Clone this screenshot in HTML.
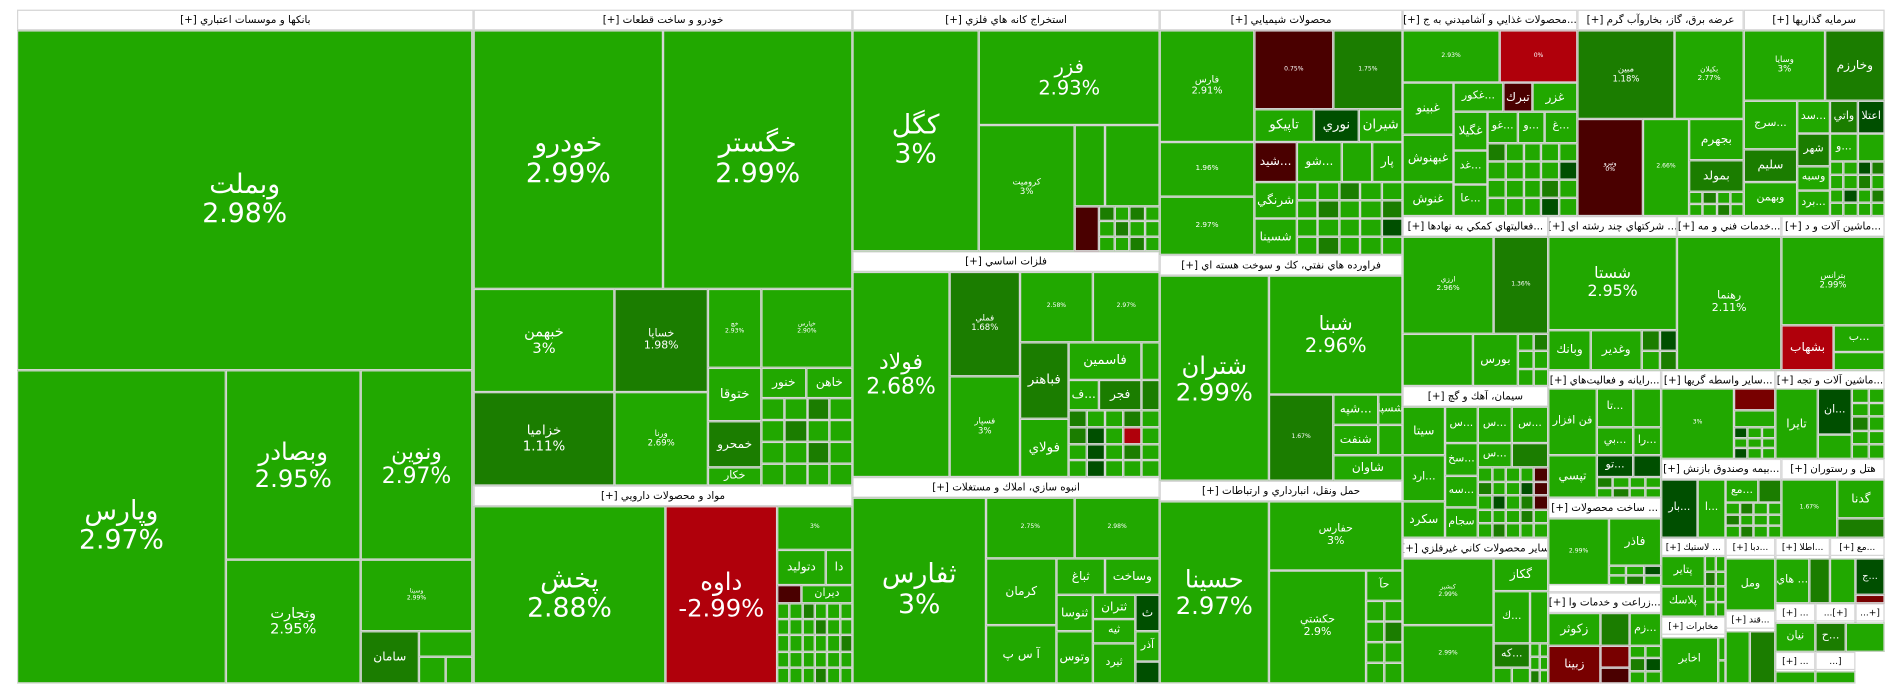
<!DOCTYPE html>
<html><head><meta charset="utf-8">
<style>
html,body{margin:0;padding:0;background:#fff;width:1904px;height:698px;overflow:hidden}
#wrap{position:absolute;left:0;top:0;width:1568px;height:575px;transform:scale(1.2143,1.2139);transform-origin:0 0}
.c{position:absolute;box-sizing:border-box;border:1px solid #d6d6d6;color:#fff;font-family:"DejaVu Sans","Liberation Sans",sans-serif;display:flex;flex-direction:column;align-items:center;justify-content:center;text-align:center;overflow:hidden;line-height:1.1;white-space:nowrap}
.h{position:absolute;box-sizing:border-box;border:1px solid #d6d6d6;background:#fff;color:#000;font-family:"DejaVu Sans","Liberation Sans",sans-serif;font-size:8.5px;display:flex;align-items:center;justify-content:center;overflow:hidden;white-space:nowrap;direction:rtl}
.s{position:absolute;box-sizing:border-box;border:1px solid #d0d0d0}
</style></head><body>
<div id="wrap"></div>
<script>
const G='#21a800',D='#1b7d00',K='#004f00',R='#b0000b',M='#4a0000',N='#780000';
const sectorTitles=[
['بانكها و موسسات اعتباري [+]',14,8,390,563],
['خودرو و ساخت قطعات [+]',390,8,702,400],
['مواد و محصولات دارويي [+]',390,400,702,563],
['استخراج كانه هاي فلزي [+]',702,8,955,207],
['فلزات اساسي [+]',702,207,955,393],
['انبوه سازي، املاك و مستغلات [+]',702,393,955,563],
['محصولات شيميايي [+]',955,8,1155,210],
['فراورده هاي نفتي، كك و سوخت هسته اي [+]',955,210,1155,396],
['حمل ونقل، انبارداري و ارتباطات [+]',955,396,1155,563],
['...محصولات غذايي و آشاميدني به ج [+]',1155,8,1299,178],
['عرضه برق، گاز، بخاروآب گرم [+]',1299,8,1436,178],
['سرمايه گذاريها [+]',1436,8,1552,178],
['...فعاليتهاي كمكي به نهادها [+]',1155,178,1275,318],
['... شركتهاي چند رشته اي [+]',1275,178,1381,305],
['...خدمات فني و مه [+]',1381,178,1467,305],
['...ماشين آلات و د [+]',1467,178,1552,305],
['سيمان، آهك و گچ [+]',1155,318,1275,443],
['ساير محصولات كاني غيرفلزي [+]',1155,443,1275,563],
['...رايانه و فعاليت‌هاي [+]',1275,305,1368,410],
['...ساير واسطه گريها [+]',1368,305,1462,378],
['...ماشين آلات و تجه [+]',1462,305,1552,378],
['...بيمه وصندوق بازنش [+]',1368,378,1467,443],
['هتل و رستوران [+]',1467,378,1552,443],
['... ساخت محصولات [+]',1275,410,1368,488],
['...زراعت و خدمات وا [+]',1275,488,1368,563],
['... لاستيك [+]',1368,443,1421,508],
['مخابرات [+]',1368,508,1421,563],
['...دبا [+]',1421,443,1462,503],
['...اطلا [+]',1462,443,1507,497],
['...مع [+]',1507,443,1552,497],
['...قند [+]',1421,503,1462,563],
['... [+]',1462,497,1495,537],
['[+]...',1495,497,1528,537],
['[+...',1528,497,1552,537],
['... [+]',1462,537,1495,563],
['[...',1495,537,1528,563]
];
const cellNames=[
['وبملت','2.98%',14,25,389,305,G,22],['وپارس','2.97%',14,305,186,563,G,22],['وبصادر','2.95%',186,305,297,461,G,20],
['ونوين','2.97%',297,305,389,461,G,18],['وتجارت','2.95%',186,461,297,563,G,12],['وسينا','2.99%',297,461,389,520,G,5],
['سامان','',297,520,345,563,D,10],['','',345,520,389,541,G,8],['','',345,541,367,563,G,8],['','',367,541,389,563,G,8],
['خودرو','2.99%',390,25,546,238,G,22],['خگستر','2.99%',546,25,702,238,G,22],['خبهمن','3%',390,238,506,323,G,12],
['خساپا','1.98%',506,238,583,323,D,9],['خزاميا','1.11%',390,323,506,400,D,11],['ورنا','2.69%',506,323,583,400,G,7],
['خچ','2.93%',583,238,627,303,G,5],['خپارس','2.90%',627,238,702,303,G,5],['ختوقا','',583,303,627,347,G,11],
['خنور','',627,303,664,328,G,10],['خاهن','',664,303,702,328,G,10],['خمحرو','',583,347,627,385,D,10],['خكار','',583,385,627,400,G,9],
['پخش','2.88%',390,417,548,563,G,22],['داوه','-2.99%',548,417,640,563,R,20],['','3%',640,417,702,453,G,5],
['دتوليد','',640,453,680,482,G,10],['دا','',680,453,702,482,G,10],['','',640,482,660,497,M,8],['ديران','',660,482,702,497,G,9],
['كگل','3%',702,25,806,207,G,22],['فزر','2.93%',806,25,955,103,G,16],['كروميت','3%',806,103,885,207,G,7],
['','',885,103,910,170,G,5],['','',910,103,955,170,G,5],['','',885,170,905,207,M,5],
['فولاد','2.68%',702,224,782,393,G,18],['فملي','1.68%',782,224,840,310,D,7],['','2.58%',840,224,900,282,G,5],['','2.97%',900,224,955,282,G,5],
['فسپار','3%',782,310,840,393,G,7],['فباهنر','',840,282,880,345,D,11],['فاسمين','',880,282,940,313,G,11],['','',940,282,955,313,G,8],
['...ف','',880,313,905,338,G,10],['فجر','',905,313,940,338,D,10],['','',940,313,955,338,D,8],['فولاي','',840,345,880,393,G,11],
['ثفارس','3%',702,410,812,563,G,22],['','2.75%',812,410,885,460,G,5],['','2.98%',885,410,955,460,G,5],
['كرمان','',812,460,870,515,G,10],['ثباغ','',870,460,910,490,G,10],['وساخت','',910,460,955,490,G,10],['آ س پ','',812,515,870,563,G,10],
['ثنوسا','',870,490,900,520,G,10],['ثتران','',900,490,935,510,G,10],['ث','',935,490,955,520,K,10],['ثيه','',900,510,935,530,G,9],
['وتوس','',870,520,900,563,G,10],['آذر','',935,520,955,545,G,9],['ثيرد','',900,530,935,563,G,9],['','',935,545,955,563,K,8],
['فارس','2.91%',955,25,1033,117,G,8],['','0.75%',1033,25,1098,90,M,5],['','1.75%',1098,25,1155,90,D,5],
['تاپيكو','',1033,90,1082,117,G,11],['نوري','',1082,90,1119,117,K,11],['شيران','',1119,90,1155,117,G,11],
['','1.96%',955,117,1033,162,G,6],['','2.97%',955,162,1033,210,G,6],['...شيد','',1033,117,1068,150,M,10],['...شو','',1068,117,1105,150,G,10],
['','',1105,117,1130,150,G,8],['پار','',1130,117,1155,150,G,10],['شرنگي','',1033,150,1068,180,G,10],['شسينا','',1033,180,1068,210,G,10],
['شتران','2.99%',955,227,1045,396,G,20],['شبنا','2.96%',1045,227,1155,325,G,16],['','1.67%',1045,325,1098,396,D,5],
['...شپه','',1098,325,1135,350,G,10],['شسپا','',1135,325,1155,350,G,9],['شنفت','',1098,350,1135,375,G,10],['','',1135,350,1155,375,G,9],['شاوان','',1098,375,1155,396,G,10],
['حسينا','2.97%',955,413,1045,563,G,20],['حفارس','3%',1045,413,1155,470,G,9],['حكشتي','2.9%',1045,470,1125,563,G,9],['حآ','',1125,470,1155,495,G,9],
['','2.93%',1155,25,1235,68,G,5],['','0%',1235,25,1299,68,R,5],['غبينو','',1155,68,1197,111,G,10],['...غكور','',1197,68,1238,92,G,9],
['تبرك','',1238,68,1262,92,M,10],['غزر','',1262,68,1299,92,G,10],['غبهنوش','',1155,111,1197,150,G,10],['غنوش','',1155,150,1197,178,G,10],
['غگيلا','',1197,92,1225,124,G,10],['...غو','',1225,92,1250,118,G,9],['...و','',1250,92,1272,118,G,9],['...غ','',1272,92,1299,118,G,9],
['...غد','',1197,124,1225,152,G,9],['...عا','',1197,152,1225,178,G,9],
['مبين','1.18%',1299,25,1379,98,D,7],['بكيلان','2.77%',1379,25,1436,98,G,6],['وتيرو','0%',1299,98,1353,178,M,5],['','2.66%',1353,98,1391,178,G,5],
['بجهرم','',1391,98,1436,132,G,10],['بمولد','',1391,132,1436,158,D,10],
['وسايا','3%',1436,25,1503,83,G,7],['وخارزم','',1503,25,1552,83,D,10],['...سرج','',1436,83,1480,123,G,9],['...سد','',1480,83,1507,110,G,9],
['واتي','',1507,83,1530,110,D,9],['اعتلا','',1530,83,1552,110,K,9],['سليم','',1436,123,1480,150,D,10],['وبهمن','',1436,150,1480,178,G,9],
['شهر','',1480,110,1507,137,D,9],['...و','',1507,110,1530,133,G,9],['','',1530,110,1552,133,G,8],['وسبه','',1480,137,1507,157,G,9],['...برد','',1480,157,1507,178,G,9],
['ارزي','2.96%',1155,195,1230,275,G,6],['','1.36%',1230,195,1275,275,D,5],['','',1155,275,1213,318,G,8],['بورس','',1213,275,1250,318,G,10],
['شستا','2.95%',1275,195,1381,272,G,13],['وبانك','',1275,272,1310,305,G,10],['وغدير','',1310,272,1352,305,G,10],
['رهنما','2.11%',1381,195,1467,305,G,9],
['بترانس','2.99%',1467,195,1552,268,G,7],['بشهاب','',1467,268,1510,305,R,10],['...ب','',1510,268,1552,290,G,9],['','',1510,290,1552,305,G,8],
['سيتا','',1155,335,1190,375,G,10],['...س','',1190,335,1217,365,G,9],['...س','',1217,335,1245,365,G,9],['...س','',1245,335,1275,365,G,9],
['...ارد','',1155,375,1190,413,G,9],['سكرد','',1155,413,1190,443,G,10],['...سخ','',1190,365,1217,392,G,9],['...سه','',1190,392,1217,418,G,9],['سجام','',1190,418,1217,443,G,9],
['...س','',1217,365,1245,385,G,9],['','',1245,365,1275,385,D,8],
['كبشير','2.99%',1155,460,1230,515,G,5],['','2.99%',1155,515,1230,563,G,5],['گكاز','',1230,460,1275,487,G,10],
['...ك','',1230,487,1260,530,G,9],['','',1260,487,1275,530,G,8],['...كه','',1230,530,1260,550,D,9],
['فن افزار','',1275,320,1315,375,G,9],['...تا','',1315,320,1345,352,G,9],['','',1345,320,1368,352,G,8],['...بي','',1315,352,1345,375,G,9],
['...را','',1345,352,1368,375,G,9],['تپسي','',1275,375,1315,410,G,10],['...تو','',1315,375,1345,393,K,9],['','',1345,375,1368,393,K,8],
['','3%',1368,320,1428,378,G,5],['','',1428,320,1462,338,N,8],['','',1428,338,1462,352,G,8],
['تايرا','',1462,320,1497,378,G,10],['...ان','',1497,320,1525,358,K,9],['','',1497,358,1525,378,G,8],
['...بار','',1368,395,1398,443,K,9],['...ا','',1398,395,1421,443,G,9],['...مع','',1421,395,1448,414,G,9],['','',1448,395,1467,414,D,8],
['','1.67%',1467,395,1513,443,G,5],['گدنا','',1513,395,1552,427,G,10],['','',1513,427,1552,443,D,8],
['','2.99%',1275,427,1325,482,G,5],['فاذر','',1325,427,1368,466,G,10],
['زكوثر','',1275,505,1318,532,G,10],['زبينا','',1275,532,1318,563,N,10],['','',1318,505,1342,532,D,8],['...زم','',1342,505,1368,532,G,9],['','',1318,532,1342,550,N,8],['','',1318,550,1342,563,M,8],
['پتاير','',1368,458,1404,483,G,9],['پلاسك','',1368,483,1404,508,G,9],['اخابر','',1368,525,1415,563,G,9],
['ومل','',1421,460,1462,503,G,9],['... هاي','',1462,460,1490,497,G,9],['','',1490,460,1507,497,D,8],['','',1507,460,1528,497,G,8],['...ج','',1528,460,1552,490,K,8],['','',1528,490,1552,497,N,8],
['','',1421,520,1441,563,G,8],['','',1441,520,1462,563,D,8],['نيان','',1462,513,1495,537,G,9],['...ح','',1495,513,1520,537,D,9],['','',1520,513,1552,537,G,8],
['','',1462,553,1495,563,G,8],['','',1495,553,1528,563,G,8]
];
const fillers=[
[627,328,702,400,4,4,'GGDGGDGGGGDGGGGG'],[640,497,702,563,6,5,'GGDGGGGGGDGGGGGGGDGGGGGGGGGDGG'],
[905,170,955,207,4,3,'DGDGGDGGGGDG'],[880,338,955,393,5,4,'DGGDGDKGRGGKGDGGKGGG'],
[1068,150,1155,210,5,4,'GGDGGGDGGDGGGGKGDGGG'],[1125,495,1155,563,2,4,'GGGDGGGG'],
[1225,118,1299,178,5,4,'DGGGGGGGGKGGGDGGGGKG'],[1391,158,1436,178,4,2,'GDGGGGDG'],[1507,133,1552,178,4,4,'GGKDGGDGGKGDGGGG'],
[1250,275,1275,318,2,3,'GDGGGG'],[1352,272,1381,305,2,2,'DKGD'],[1217,385,1275,443,5,5,'GGGGMDGGKMGKGDMGGGDGGDGGG'],
[1260,530,1275,563,2,3,'GGGGDG'],[1230,550,1260,563,2,1,'GG'],[1315,393,1368,410,4,2,'DGGGGDGG'],[1428,352,1462,378,3,3,'KGGGGGKGG'],
[1525,320,1552,378,2,5,'GGGGDGGGGG'],[1421,414,1467,443,4,3,'GDGGDGGGGDGG'],[1325,466,1368,482,3,2,'GGKGDG'],
[1342,532,1368,563,2,3,'GGDKGG'],[1404,458,1421,508,2,4,'GGDGGGGG'],[1415,525,1421,563,1,2,'GG']
];
const wrap=document.getElementById('wrap');
const col={G:G,D:D,K:K,R:R,M:M,N:N};
function box(x1,y1,x2,y2,c){const e=document.createElement('div');e.className='c';
e.style.left=x1+'px';e.style.top=y1+'px';e.style.width=(x2-x1)+'px';e.style.height=(y2-y1)+'px';e.style.background=c;wrap.appendChild(e);return e;}
sectorTitles.forEach(s=>{
 const o=document.createElement('div');o.className='s';
 
 
 o.style.left=s[1]+'px';o.style.top=s[2]+'px';o.style.width=(s[3]-s[1])+'px';o.style.height=(s[4]-s[2])+'px';wrap.appendChild(o);
 const h=document.createElement('div');h.className='h';h.textContent=s[0];
 
 
 const hh=(s[3]-s[1])<60?15:17;
 h.style.left=s[1]+'px';h.style.top=s[2]+'px';h.style.width=(s[3]-s[1])+'px';h.style.height=hh+'px';
 if(hh==15)h.style.fontSize='7.5px';
 wrap.appendChild(h);
});
cellNames.forEach(c=>{
 if(c[4]-c[2]<=0)return;
 const e=box(c[2],c[3],c[4],c[5],c[6]);
 
 
 e.style.fontSize=c[7]+'px';
 const a=document.createElement('span');a.textContent=c[0];a.style.direction='rtl';e.appendChild(a);
 if(c[1]){const b=document.createElement('span');b.textContent=c[1];e.appendChild(b);}
});
fillers.forEach(f=>{
 const w=(f[2]-f[0])/f[4],h=(f[3]-f[1])/f[5];
 for(let r=0;r<f[5];r++)for(let k=0;k<f[4];k++){
  const e=box(f[0]+k*w,f[1]+r*h,f[0]+(k+1)*w,f[1]+(r+1)*h,col[f[6][r*f[4]+k]]||G);
  
  
 }
});
</script>
</body></html>
